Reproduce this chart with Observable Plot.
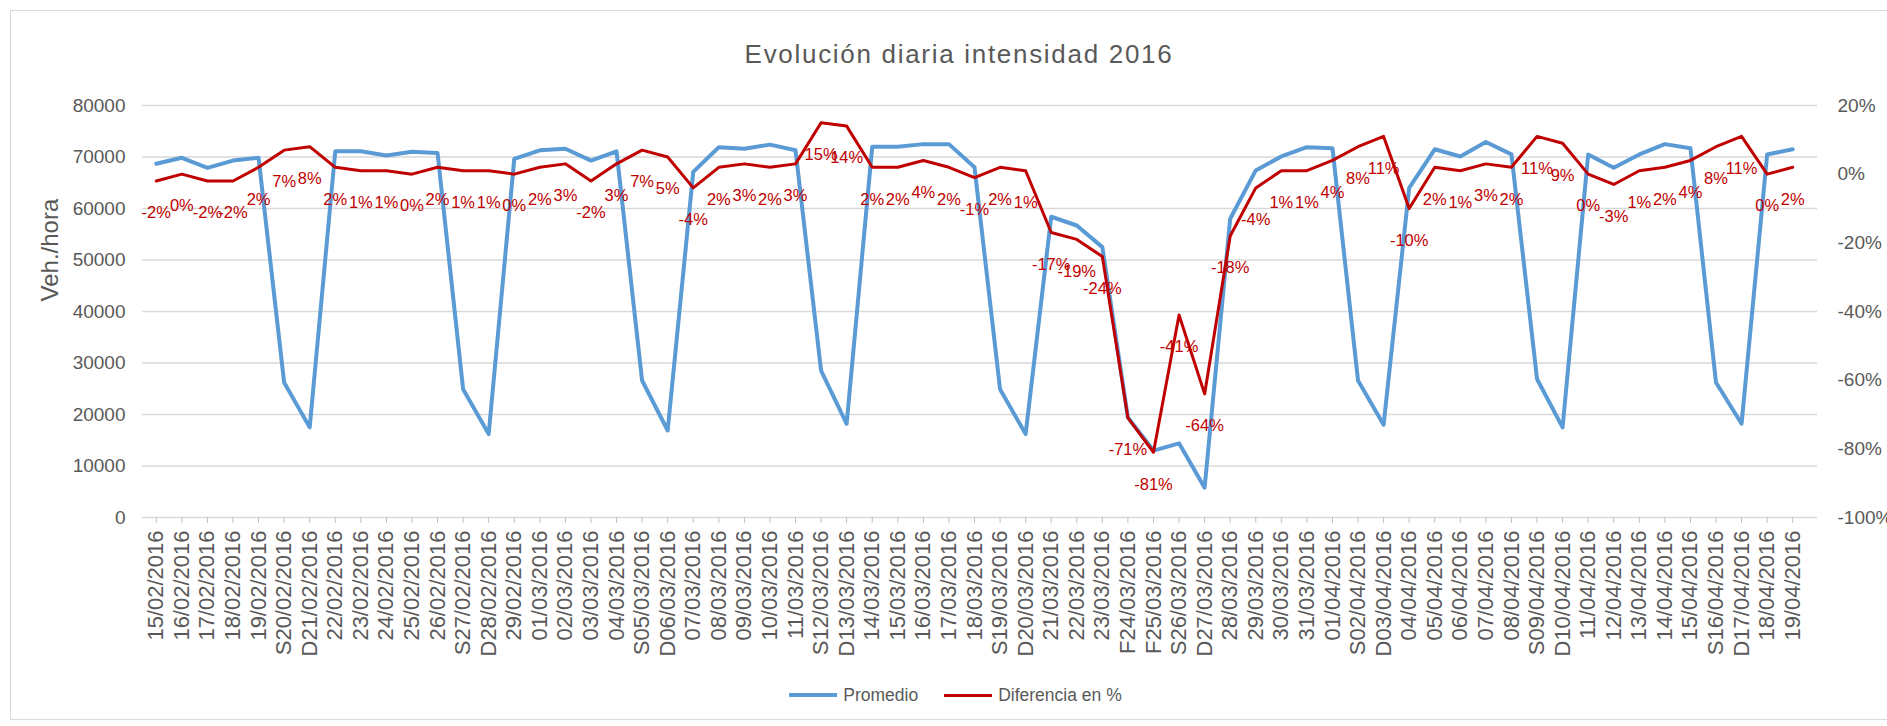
<!DOCTYPE html>
<html>
<head>
<meta charset="utf-8">
<script src="https://cdn.jsdelivr.net/npm/d3@7"></script>
<script src="https://cdn.jsdelivr.net/npm/@observablehq/plot@0.6"></script>
<style>
  html, body { margin: 0; padding: 0; background: #fff; }
  #chart { position: relative; width: 1887px; height: 726px; overflow: hidden; font-family: "Liberation Sans", Arial, sans-serif; }
  #frame { position: absolute; left: 10px; top: 10px; width: 1900px; height: 710px; border: 1px solid #d9d9d9; pointer-events: none; box-sizing: border-box; }
  #title { height: 81px; box-sizing: border-box; padding-top: 39px; padding-left: 31px; text-align: center; font-size: 26px; line-height: 30px; letter-spacing: 1.7px; color: #595959; }
  #legend { display: flex; justify-content: center; align-items: center; padding-top: 17px; padding-left: 24px; font-size: 17.5px; line-height: 24px; color: #595959; }
  .item { display: flex; align-items: center; margin: 0 13px; }
  .sw { width: 48px; margin-right: 6px; }
  svg { display: block; }
</style>
</head>
<body>
<div id="chart">
  <div id="frame"></div>
  <div id="title">Evolución diaria intensidad 2016</div>
  <div id="plot"></div>
  <div id="legend"></div>
</div>
<script>
// Category labels (days)
const dias = [
  "15/02/2016","16/02/2016","17/02/2016","18/02/2016","19/02/2016","S20/02/2016","D21/02/2016",
  "22/02/2016","23/02/2016","24/02/2016","25/02/2016","26/02/2016","S27/02/2016","D28/02/2016",
  "29/02/2016","01/03/2016","02/03/2016","03/03/2016","04/03/2016","S05/03/2016","D06/03/2016",
  "07/03/2016","08/03/2016","09/03/2016","10/03/2016","11/03/2016","S12/03/2016","D13/03/2016",
  "14/03/2016","15/03/2016","16/03/2016","17/03/2016","18/03/2016","S19/03/2016","D20/03/2016",
  "21/03/2016","22/03/2016","23/03/2016","F24/03/2016","F25/03/2016","S26/03/2016","D27/03/2016",
  "28/03/2016","29/03/2016","30/03/2016","31/03/2016","01/04/2016","S02/04/2016","D03/04/2016",
  "04/04/2016","05/04/2016","06/04/2016","07/04/2016","08/04/2016","S09/04/2016","D10/04/2016",
  "11/04/2016","12/04/2016","13/04/2016","14/04/2016","15/04/2016","S16/04/2016","D17/04/2016",
  "18/04/2016","19/04/2016"
];

// Promedio (Veh./hora)
const promedio = [
  68700, 69850, 67900, 69300, 69850, 26200, 17500,
  71100, 71100, 70300, 71000, 70800, 24900, 16200,
  69650, 71300, 71600, 69300, 71100, 26600, 16900,
  67100, 71900, 71600, 72400, 71300, 28500, 18200,
  72000, 72000, 72500, 72500, 68000, 24900, 16200,
  58400, 56700, 52500, 19400, 13000, 14400, 5800,
  58000, 67400, 70100, 71900, 71700, 26600, 18000,
  64000, 71500, 70100, 72900, 70500, 26900, 17500,
  70500, 67900, 70500, 72500, 71700, 26200, 18200,
  70500, 71500
];

// Diferencia en % (percent points)
const diferencia = [
  -2, 0, -2, -2, 2, 7, 8,
  2, 1, 1, 0, 2, 1, 1,
  0, 2, 3, -2, 3, 7, 5,
  -4, 2, 3, 2, 3, 15, 14,
  2, 2, 4, 2, -1, 2, 1,
  -17, -19, -24, -71, -81, -41, -64,
  -18, -4, 1, 1, 4, 8, 11,
  -10, 2, 1, 3, 2, 11, 9,
  0, -3, 1, 2, 4, 8, 11,
  0, 2
];

// Axis ticks
const ticksIzq = [0, 10000, 20000, 30000, 40000, 50000, 60000, 70000, 80000];
const ticksDer = [20, 0, -20, -40, -60, -80, -100];

const azul = "#5b9bd5", rojo = "#c00000", gris = "#595959";

// secondary axis [-100%, 20%] mapped onto primary [0, 80000]
const maxIzq = 80000, minDer = -100, maxDer = 20;
const toY = p => (p - minDer) / (maxDer - minDer) * maxIzq;

const data = dias.map((d, i) => ({dia: d, promedio: promedio[i], pct: diferencia[i]}));

const W = 1887, H = 585;
const plot = Plot.plot({
  width: W,
  height: H,
  marginTop: 24,
  marginBottom: 149,
  marginLeft: 142,
  marginRight: 70,
  style: {fontFamily: '"Liberation Sans", Arial, sans-serif', background: "transparent", overflow: "visible"},
  x: {type: "point", domain: dias, range: [143, 1805]},
  y: {domain: [0, maxIzq]},
  marks: [
    Plot.ruleY(ticksIzq, {stroke: "#d9d9d9", strokeWidth: 1.3}),
    Plot.axisY(ticksIzq, {anchor: "left", tickSize: 0, tickPadding: 17, fontSize: 19, fill: gris, tickFormat: d => String(d), label: null}),
    Plot.axisY(ticksDer.map(toY), {anchor: "right", tickSize: 0, tickPadding: 20, fontSize: 19, fill: gris, textAnchor: "start",
      tickFormat: v => Math.round(v / maxIzq * (maxDer - minDer) + minDer) + "%", label: null}),
    Plot.axisX({anchor: "bottom", tickRotate: -90, tickSize: 6, tickPadding: 7, fontSize: 22, stroke: "#bfbfbf", fill: gris, label: null}),
    Plot.text(["Veh./hora"], {text: d => d, frameAnchor: "left", dx: -92, dy: -10, rotate: -90, fontSize: 24, fill: gris}),
    Plot.line(data, {x: "dia", y: "promedio", stroke: azul, strokeWidth: 4, strokeLinejoin: "round"}),
    Plot.line(data, {x: "dia", y: d => toY(d.pct), stroke: rojo, strokeWidth: 3, strokeLinejoin: "round"}),
    Plot.text(data, {x: "dia", y: d => toY(d.pct), text: d => d.pct + "%", dy: 32, fontSize: 16.5, fill: rojo})
  ]
});
document.getElementById("plot").appendChild(plot);

const legend = document.getElementById("legend");
[["Promedio", azul, 4], ["Diferencia en %", rojo, 3]].forEach(([name, color, w]) => {
  const it = document.createElement("div");
  it.className = "item";
  const sw = document.createElement("div");
  sw.className = "sw";
  sw.style.height = w + "px";
  sw.style.background = color;
  const t = document.createElement("span");
  t.textContent = name;
  it.appendChild(sw); it.appendChild(t);
  legend.appendChild(it);
});
</script>
</body>
</html>
